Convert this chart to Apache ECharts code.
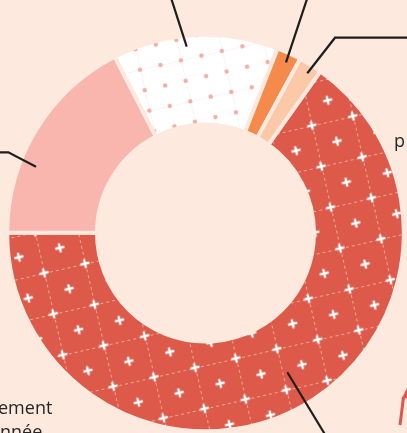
<!DOCTYPE html>
<html><head><meta charset="utf-8">
<script src="https://cdn.jsdelivr.net/npm/echarts/dist/echarts.min.js"></script>
<style>html,body{margin:0;padding:0;background:#fde9dd;overflow:hidden}#c{width:407px;height:433px;}</style>
</head><body><div id="c"></div>
<script>
// ---- data ----
const categories = ['Segment 1', 'Segment 2', 'Segment 3', 'Segment 4', 'Segment 5'];
const values = [65.2, 17.4, 13.5, 2.0, 1.9];
const sideTexts = ['ement', 'année', 'p'];

// ---- styles ----
const BG = '#fde9dd';
function redTile() {
  const s = 42, c = document.createElement('canvas'); c.width = s; c.height = s;
  const g = c.getContext('2d');
  g.fillStyle = '#dd5a4a'; g.fillRect(0, 0, s, s);
  g.strokeStyle = 'rgba(255,215,200,0.6)'; g.lineWidth = 1; g.setLineDash([3, 3]);
  g.beginPath(); g.moveTo(0, 0.5); g.lineTo(s, 0.5); g.moveTo(0.5, 0); g.lineTo(0.5, s); g.stroke();
  g.setLineDash([]);
  g.strokeStyle = '#ffffff'; g.lineWidth = 2.4;
  [[0,0],[s,0],[0,s],[s,s],[s/2,s/2]].forEach(([x,y]) => {
    g.beginPath(); g.moveTo(x-4.6, y); g.lineTo(x+4.6, y); g.moveTo(x, y-4.6); g.lineTo(x, y+4.6); g.stroke();
  });
  return c;
}
function whiteTile() {
  const s = 42, c = document.createElement('canvas'); c.width = s; c.height = s;
  const g = c.getContext('2d');
  g.fillStyle = '#ffffff'; g.fillRect(0, 0, s, s);
  g.strokeStyle = 'rgba(225,215,210,0.22)'; g.lineWidth = 1;
  g.beginPath(); g.moveTo(0, 0.5); g.lineTo(s, 0.5); g.moveTo(0.5, 0); g.lineTo(0.5, s); g.stroke();
  g.fillStyle = '#f7aca2';
  for (let i = 0; i <= 2; i++) for (let j = 0; j <= 2; j++) {
    g.beginPath(); g.arc(i*21, j*21, 2.2, 0, Math.PI*2); g.fill();
  }
  return c;
}
const rot = -12.9 * Math.PI / 180;
const fills = [
  { image: redTile(), repeat: 'repeat', rotation: rot, x: 195, y: 367.7 },
  '#f8b6ae',
  { image: whiteTile(), repeat: 'repeat', rotation: rot, x: 140, y: 69.7 },
  '#f58a4b',
  '#fbc8a8'
];
const leaders = [
  { x: 340, y: 480, pts: [[287.3, 372.3], [331.4, 445]] },
  { x: -300, y: 152, pts: [[36, 166.7], [8.3, 152.3], [-20, 152.3]] },
  { x: 160, y: -60, pts: [[186.7, 46.7], [168.5, -10]] },
  { x: 310, y: -60, pts: [[286, 62.3], [310, -10]] },
  { x: 520, y: 38, pts: [[307.3, 73.3], [335, 37.7], [420, 37.7]] }
];

const pieBase = {
  type: 'pie',
  silent: true,
  center: [205.5, 233],
  radius: [108.5, 198.3],
  startAngle: 54.6,
  clockwise: true,
  avoidLabelOverlap: false,
  emphasis: { disabled: true }
};

const chart = echarts.init(document.getElementById('c'), null, { renderer: 'canvas' });
chart.setOption({
  backgroundColor: BG,
  animation: false,
  series: [
    Object.assign({}, pieBase, {
      z: 2,
      itemStyle: { borderColor: BG, borderWidth: 4, borderJoin: 'round' },
      label: { show: false },
      labelLine: { show: false },
      data: categories.map((n, i) => ({ name: n, value: values[i], itemStyle: { color: fills[i] } }))
    }),
    Object.assign({}, pieBase, {
      z: 5,
      itemStyle: { color: 'rgba(0,0,0,0)', borderWidth: 0 },
      label: { show: true, position: 'outside', formatter: '{b}', color: '#333', fontSize: 18, fontFamily: 'Open Sans' },
      labelLine: { show: true, lineStyle: { color: '#1e1e1e', width: 2.2 } },
      labelLayout: function (p) {
        const L = leaders[p.dataIndex];
        return { x: L.x, y: L.y, labelLinePoints: L.pts };
      },
      data: categories.map((n, i) => ({ name: n, value: values[i] }))
    })
  ],
  graphic: [
    { type: 'text', silent: true, style: { text: sideTexts[0], x: -2, y: 409.2, fill: '#262626', font: '18px "Open Sans"', align: 'left', verticalAlign: 'middle' } },
    { type: 'text', silent: true, style: { text: sideTexts[1], x: -10, y: 432.5, fill: '#262626', font: '18px "Open Sans"', align: 'left', verticalAlign: 'middle' } },
    { type: 'text', silent: true, style: { text: sideTexts[2], x: 394, y: 141.5, fill: '#262626', font: '18px "Open Sans"', align: 'left', verticalAlign: 'middle' } },
    { type: 'polyline', silent: true, shape: { points: [[400, 425], [403.5, 397]] }, style: { stroke: '#e0574a', lineWidth: 3, fill: null } },
    { type: 'polygon', silent: true, shape: { points: [[401.5, 399], [407, 388], [408, 398]] }, style: { fill: '#e0574a' } }
  ]
});
</script>
</body></html>
